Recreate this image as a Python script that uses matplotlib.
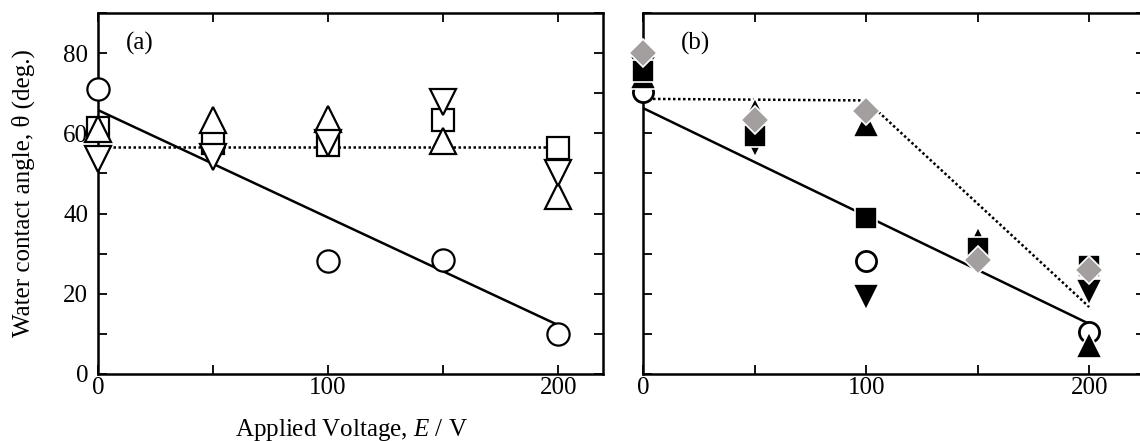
import matplotlib
matplotlib.use("Agg")
import matplotlib.pyplot as plt
from matplotlib.ticker import MultipleLocator

plt.rcParams['font.family'] = ['Liberation Serif', 'DejaVu Serif']
plt.rcParams['mathtext.fontset'] = 'custom'
plt.rcParams['mathtext.rm'] = 'Liberation Serif'
plt.rcParams['mathtext.it'] = 'Liberation Serif:italic'

# ---- data: panel (a) ----
a_circle_x = [0, 100, 150, 200]
a_circle_y = [71, 28.2, 28.5, 10]
a_x = [0, 50, 100, 150, 200]
a_square_y = [61.3, 57.5, 57.1, 63.3, 56.3]
a_up_y = [61, 63.3, 63.5, 58, 44.4]
a_down_y = [53.5, 54, 57.5, 67.8, 50]
a_fit_x = [0, 200]
a_fit_y = [65.8, 12.2]
a_dot_x = [0, 200]
a_dot_y = [56.5, 56.5]

# ---- data: panel (b) ----
b_x = [0, 50, 100, 150, 200]
b_circle_x = [0, 100, 200]
b_circle_y = [70.3, 28.2, 10.4]
b_square_y = [75.5, 59.3, 38.8, 31.3, 27]
b_up_y = [74.2, 65.6, 62.3, 33.4, 7.2]
b_down_y = [76, 57.4, 19.3, 30.3, 20.5]
b_diamond_y = [80, 63.3, 65.5, 28.5, 26]
b_fit_x = [0, 200]
b_fit_y = [66.3, 12.5]
b_dot_x = [0, 100, 200]
b_dot_y = [68.6, 68.2, 16.7]

xticks_major = [0, 100, 200]
yticks_major = [0, 20, 40, 60, 80]

W, H = 1140, 441
fig = plt.figure(figsize=(W / 100, H / 100), dpi=100)

def px_axes(l, r, t, b):
    return fig.add_axes([l / W, 1 - b / H, (r - l) / W, (b - t) / H])

axA = px_axes(98, 603, 13, 374)
axB = px_axes(643, 1145, 13, 374)

FS = 18
spine_lw = 1.8

def style(ax, xmax, ylabels=True):
    ax.set_xlim(0, xmax)
    ax.set_ylim(0, 90)
    ax.set_xticks(xticks_major)
    ax.xaxis.set_minor_locator(MultipleLocator(50))
    ax.set_yticks(yticks_major)
    ax.yaxis.set_minor_locator(MultipleLocator(10))
    for s in ax.spines.values():
        s.set_linewidth(spine_lw)
    ax.tick_params(which='both', direction='in', top=True, right=True,
                   length=6.5, width=1.3, labelsize=FS)
    ax.tick_params(axis='x', which='both', pad=2)
    ax.tick_params(axis='y', which='both', pad=7)
    if not ylabels:
        ax.tick_params(axis='y', labelleft=False)

style(axA, 219.5)
style(axB, 225, ylabels=False)

# panel (a)
lw_edge = 1.6
axA.plot(a_fit_x, a_fit_y, color='black', lw=1.8, zorder=2)
axA.plot(a_dot_x, a_dot_y, color='black', lw=1.8, ls=(0, (1, 1)), zorder=2)
axA.plot(a_circle_x, a_circle_y, 'o', ms=16, mfc='white', mec='black', mew=lw_edge, zorder=3, clip_on=False)
axA.plot(a_x, a_square_y, 's', ms=15.5, mfc='white', mec='black', mew=lw_edge, zorder=3, clip_on=False)
axA.plot(a_x, a_up_y, '^', ms=19, mfc='white', mec='black', mew=lw_edge, zorder=4, clip_on=False)
axA.plot(a_x, a_down_y, 'v', ms=19, mfc='white', mec='black', mew=lw_edge, zorder=4, clip_on=False)
axA.text(0.055, 0.915, '(a)', transform=axA.transAxes, fontsize=FS, ha='left', va='center')
axA.set_ylabel('Water contact angle, θ (deg.)', fontsize=18)
axA.yaxis.set_label_coords(-0.125, 0.5)

# panel (b)
gray = '#a39f9f'
axB.plot(b_fit_x, b_fit_y, color='black', lw=1.8, zorder=2)
axB.plot(b_dot_x, b_dot_y, color='black', lw=1.8, ls=(0, (1, 1)), zorder=2)
axB.plot(b_circle_x, b_circle_y, 'o', ms=14.5, mfc='white', mec='black', mew=2.0, zorder=3, clip_on=False)
axB.plot(b_x, b_up_y, '^', ms=19, mfc='black', mec='white', mew=1.2, zorder=4, clip_on=False)
axB.plot(b_x, b_down_y, 'v', ms=19, mfc='black', mec='white', mew=1.2, zorder=5, clip_on=False)
axB.plot(b_x, b_square_y, 's', ms=16.5, mfc='black', mec='white', mew=1.2, zorder=6, clip_on=False)
axB.plot(b_x, b_diamond_y, 'D', ms=14.5, mfc=gray, mec='white', mew=1.2, zorder=7, clip_on=False)
axB.text(0.075, 0.915, '(b)', transform=axB.transAxes, fontsize=FS, ha='left', va='center')

fig.text(351 / W, 1 - 430 / H, r'Applied Voltage, $E$ / V', fontsize=18, ha='center', va='center')

fig.savefig('out.png', dpi=100)
